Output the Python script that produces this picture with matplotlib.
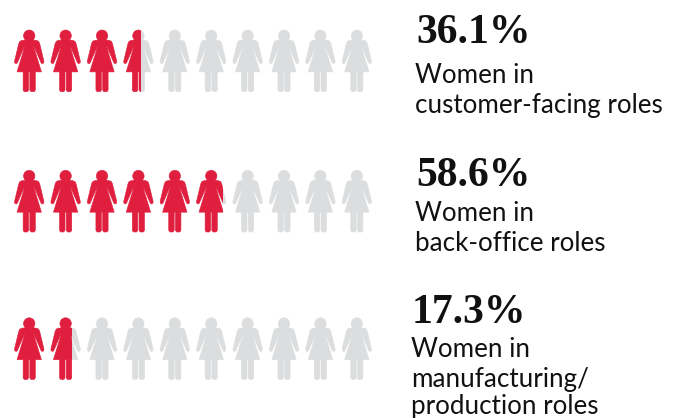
import matplotlib.pyplot as plt
from matplotlib.patches import PathPatch, Rectangle
from matplotlib.path import Path
from matplotlib.transforms import Affine2D

values = [36.1, 58.6, 17.3]
value_labels = ['36.1%', '58.6%', '17.3%']
captions = [['Women in', 'customer-facing roles'],
            ['Women in', 'back-office roles'],
            ['Women in', 'manufacturing/', 'production roles']]

RED = '#e01f3f'
GREY = '#dcddde'
INK = '#111111'

# one icon per 10 percent, axis x is percent and y is pixels
PX_PER_PCT = 3.64
X0 = 9.2
head_y = [35.7, 176, 323.5]
value_x = [416, 416, 412]
value_y = [43, 186, 323]
caption_x = [415, 415, 411]
caption_y = [[83, 113], [221, 251], [357, 387, 414]]

fig = plt.figure(figsize=(6.81, 4.18), dpi=100)
ax = fig.add_axes([0, 0, 1, 1])
ax.set_xlim(-X0 / PX_PER_PCT, (681 - X0) / PX_PER_PCT)
ax.set_ylim(418, 0)
ax.axis('off')

# right side of the figure outline, in pixels from the middle of the head
side = [(3, 4.3), (7, 4.6), (9.4, 5.6), (10.5, 8), (14.7, 25.5), (14.5, 27.2), (13.1, 28),
        (11.9, 27.2), (4.9, 11), (4.5, 11), (12.2, 36.2), (6.1, 36.2), (6.1, 54.3), (5, 56),
        (1.8, 56), (0.6, 54.3), (0.6, 36.2)]
left = [(-x, y) for x, y in reversed(side)]
body = Path(side + left + [side[0]])
head = Path.circle((0, 0), 5.7)
icon = Path.make_compound_path(head, body)


def draw_icon(cx_pct, y, color, clip_from, clip_to):
    tr = Affine2D().scale(1 / PX_PER_PCT, 1).translate(cx_pct, y) + ax.transData
    p = PathPatch(icon, facecolor=color, edgecolor=color, lw=0.4, transform=tr)
    ax.add_patch(p)
    clip = Rectangle((clip_from, 0), clip_to - clip_from, 418, transform=ax.transData)
    p.set_clip_path(clip)


for r, v in enumerate(values):
    for i in range(10):
        cx = 5.5 + 10 * i
        draw_icon(cx, head_y[r], GREY, v, 200)
        draw_icon(cx, head_y[r], RED, -10, v)

    ax.text((value_x[r] - X0) / PX_PER_PCT, value_y[r], value_labels[r], family='Liberation Serif',
            fontweight='bold', fontsize=30, color=INK, va='baseline', ha='left')
    for line, y in zip(captions[r], caption_y[r]):
        ax.text((caption_x[r] - X0) / PX_PER_PCT, y, line, family='Lato', fontsize=18.7,
                color=INK, va='baseline', ha='left')

fig.savefig('out.png', dpi=100)
